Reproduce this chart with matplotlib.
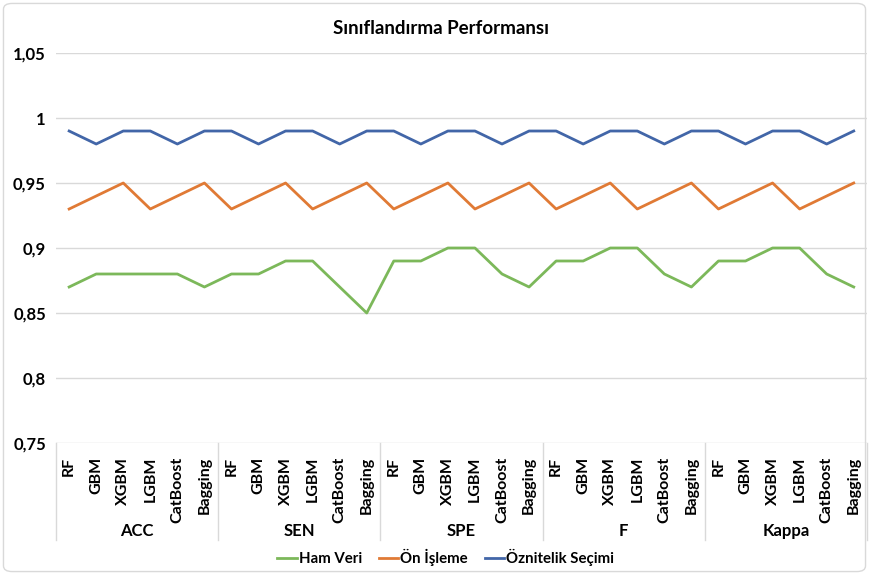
import matplotlib.pyplot as plt
from matplotlib.patches import FancyBboxPatch
import matplotlib.transforms as mtransforms

plt.rcParams['font.family'] = ['Lato', 'DejaVu Sans']

# --- Data ---
gruplar = ['ACC', 'SEN', 'SPE', 'F', 'Kappa']
modeller = ['RF', 'GBM', 'XGBM', 'LGBM', 'CatBoost', 'Bagging']

ham_veri = [0.87, 0.88, 0.88, 0.88, 0.88, 0.87,
            0.88, 0.88, 0.89, 0.89, 0.87, 0.85,
            0.89, 0.89, 0.90, 0.90, 0.88, 0.87,
            0.89, 0.89, 0.90, 0.90, 0.88, 0.87,
            0.89, 0.89, 0.90, 0.90, 0.88, 0.87]
on_isleme = [0.93, 0.94, 0.95, 0.93, 0.94, 0.95] * 5
oznitelik = [0.99, 0.98, 0.99, 0.99, 0.98, 0.99] * 5

y_ticks = [0.75, 0.8, 0.85, 0.9, 0.95, 1.0, 1.05]

# --- Plot ---
fig = plt.figure(figsize=(8.69, 5.75), dpi=100)
ax = fig.add_axes([0.064, 0.2296, 0.934, 0.6782])

n = len(gruplar) * len(modeller)
x = list(range(n))

ax.plot(x, ham_veri, color='#7CB85A', lw=2.0, label='Ham Veri')
ax.plot(x, on_isleme, color='#E07A35', lw=2.0, label='Ön İşleme')
ax.plot(x, oznitelik, color='#4266A8', lw=2.0, label='Öznitelik Seçimi')

ax.set_xlim(-0.5, n - 0.5)
ax.set_ylim(0.75, 1.05)
ax.set_yticks(y_ticks)
ax.set_yticklabels([f'{v:g}'.replace('.', ',') for v in y_ticks],
                   fontsize=12, fontweight='bold')
ax.grid(axis='y', color='#d9d9d9', lw=1)
ax.set_axisbelow(True)
for s in ['top', 'right', 'left', 'bottom']:
    ax.spines[s].set_visible(False)
ax.tick_params(axis='y', length=0, pad=7)

ax.set_xticks(x)
ax.set_xticklabels(modeller * len(gruplar), rotation=90, va='top',
                   fontsize=11.5, fontweight='bold')
ax.tick_params(axis='x', length=0, pad=10)

# gruppe-etiketter og skillelinjer
trans = mtransforms.blended_transform_factory(ax.transData, ax.transAxes)
for i, g in enumerate(gruplar):
    midt = i * len(modeller) + (len(modeller) - 1) / 2
    ax.text(midt, -0.226, g, transform=trans, ha='center', va='center',
            fontsize=12, fontweight='bold')
for i in range(len(gruplar) + 1):
    xs = i * len(modeller) - 0.5
    ax.plot([xs, xs], [0, -0.25], transform=trans, color='#d9d9d9',
            lw=1, clip_on=False)

fig.text(0.508, 0.951, 'Sınıflandırma Performansı', ha='center', va='center',
         fontsize=13.5, fontweight='bold')

fig.legend(loc='center', bbox_to_anchor=(0.513, 0.031), ncol=3, frameon=False,
           handlelength=1.3, handletextpad=0.15, columnspacing=1.1,
           prop={'weight': 'bold', 'size': 10.8})

fig.patches.append(FancyBboxPatch((0.004, 0.006), 0.992, 0.988,
                                  boxstyle='round,pad=0,rounding_size=0.01',
                                  transform=fig.transFigure, fill=False,
                                  edgecolor='#d9d9d9', lw=1))

fig.savefig('out.png', dpi=100)
